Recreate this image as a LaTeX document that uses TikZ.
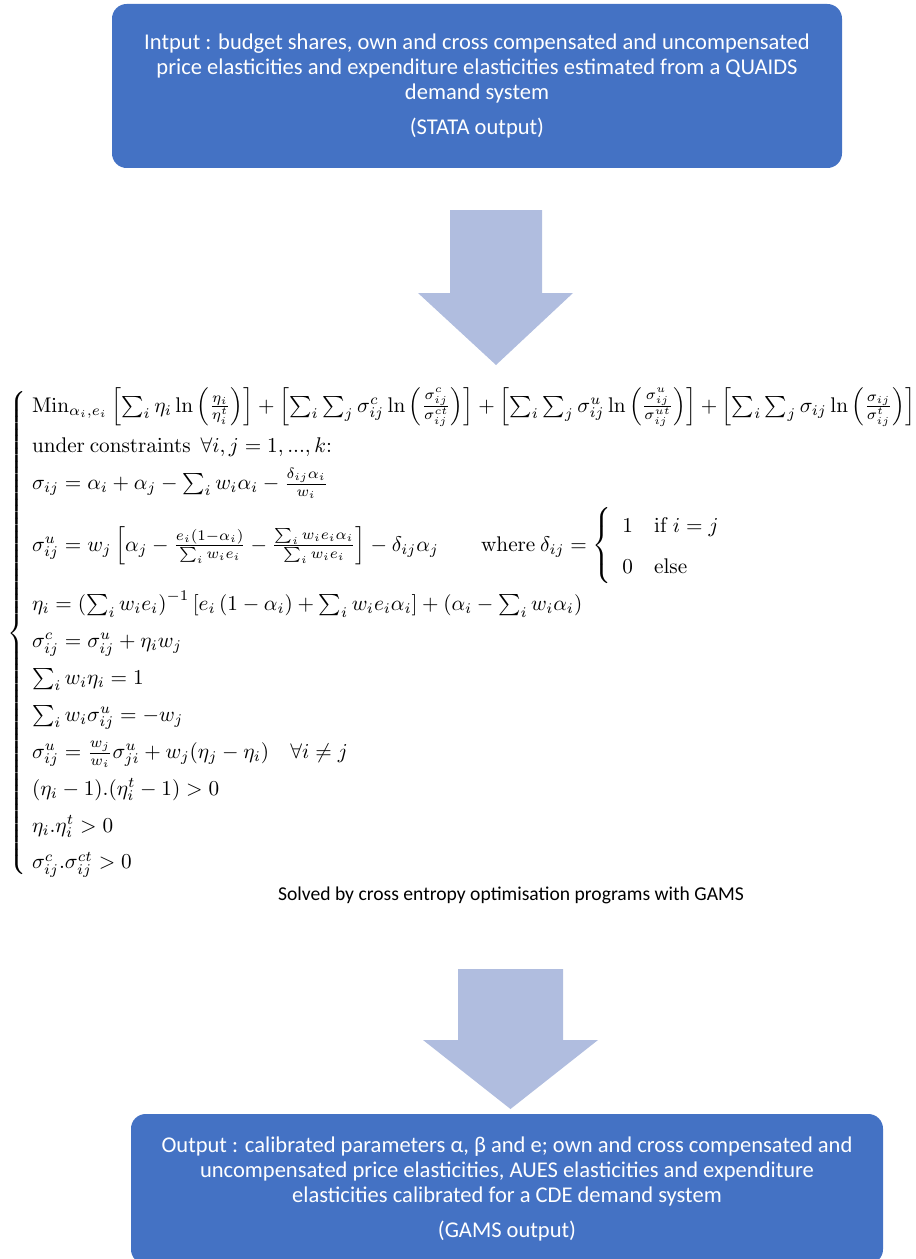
\documentclass[tikz,border=0pt]{standalone}
\usepackage{amsmath}
\usepackage{graphicx}
\usepackage[no-math]{fontspec}
\setmainfont{Carlito}
\definecolor{boxblue}{RGB}{68,114,196}
\definecolor{arrowblue}{RGB}{176,189,223}
\begin{document}
\begin{tikzpicture}[x=0.75pt,y=0.75pt,yscale=-1,xscale=1,
	stagebox/.style={fill=boxblue,draw=none,rounded corners=11pt,text=white,align=center,inner sep=0pt,font=\fontsize{16.9}{18.8}\selectfont},
	blockarrow/.style={fill=arrowblue,draw=none}]
			\useasboundingbox (0,0) rectangle (916,1259);
			%Input box
			\node [stagebox,minimum width=730*0.75pt,minimum height=164*0.75pt] (input) at (477,86) {Intput : budget shares, own and cross compensated and uncompensated\\price elasticities and expenditure elasticities estimated from a QUAIDS\\demand system\\[7pt](STATA output)};
			%Down Arrow 1
			\fill [blockarrow] (450,210) -- (542,210) -- (542,293) -- (573,293) -- (496,365) -- (418,293) -- (450,293) -- cycle ;
			%Cross entropy programme
			\node [anchor=north west,inner sep=0pt] (program) at (7,386) {\resizebox{683pt}{!}{$\renewcommand{\arraystretch}{1.45}\left\{\begin{array}{@{\;}l@{}}
				\mathrm{Min}_{\alpha_i,e_i}\left[\sum_i \eta_i \ln\left(\frac{\eta_i}{\eta_i^t}\right)\right] + \left[\sum_i\sum_j \sigma^c_{ij}\ln\left(\frac{\sigma^c_{ij}}{\sigma^{ct}_{ij}}\right)\right] + \left[\sum_i\sum_j \sigma^u_{ij}\ln\left(\frac{\sigma^u_{ij}}{\sigma^{ut}_{ij}}\right)\right] + \left[\sum_i\sum_j \sigma_{ij}\ln\left(\frac{\sigma_{ij}}{\sigma^t_{ij}}\right)\right]\\
				\mathrm{under\ constraints}\ \ \forall i,j=1,...,k\mathrm{:}\\
				\sigma_{ij} = \alpha_i+\alpha_j-\sum_i w_i\alpha_i - \frac{\delta_{ij}\alpha_i}{w_i}\\[3pt]
				\sigma^u_{ij} = w_j\left[\alpha_j - \frac{e_i(1-\alpha_i)}{\sum_i w_ie_i} - \frac{\sum_i w_ie_i\alpha_i}{\sum_i w_ie_i}\right] - \delta_{ij}\alpha_j \qquad \mathrm{where}\ \delta_{ij} = \left\{\begin{array}{ll} 1 & \mathrm{if}\ i=j\\[2pt] 0 & \mathrm{else}\end{array}\right.\\[3pt]
				\eta_i = \left(\sum_i w_ie_i\right)^{-1}\left[e_i\left(1-\alpha_i\right)+\sum_i w_ie_i\alpha_i\right] + \left(\alpha_i - \sum_i w_i\alpha_i\right)\\
				\sigma^c_{ij} = \sigma^u_{ij}+\eta_iw_j\\
				\sum_i w_i\eta_i = 1\\
				\sum_i w_i\sigma^u_{ij} = -w_j\\
				\sigma^u_{ij} = \frac{w_j}{w_i}\sigma^u_{ji} + w_j(\eta_j-\eta_i)\quad \forall i\neq j\\
				(\eta_i-1).(\eta^t_i-1)>0\\
				\eta_i.\eta^t_i>0\\
				\sigma^c_{ij}.\sigma^{ct}_{ij}>0
			\end{array}\right.$}};
			% Text Node
			\node [inner sep=0pt,font=\fontsize{14.7}{17}\selectfont] (solver) at (511,895) {Solved by cross entropy optimisation programs with GAMS};
			%Down Arrow 2
			\fill [blockarrow] (458,969) -- (563,969) -- (563,1040) -- (598,1040) -- (510.5,1109) -- (423,1040) -- (458,1040) -- cycle ;
			%Output box
			\node [stagebox,minimum width=752*0.75pt,minimum height=150*0.75pt] (output) at (507,1189) {Output : calibrated parameters α, β and e; own and cross compensated and\\uncompensated price elasticities, AUES elasticities and expenditure\\elasticities calibrated for a CDE demand system\\[7pt](GAMS output)};
		\end{tikzpicture}
\end{document}
